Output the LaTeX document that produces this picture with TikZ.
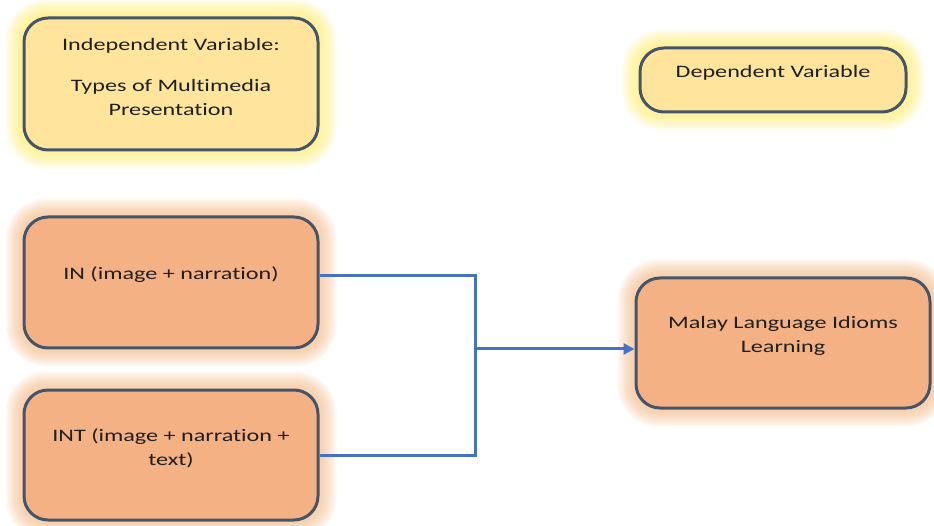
\documentclass[tikz,border=0pt]{standalone}
\usepackage{fontspec}
\setmainfont{Carlito}[FakeStretch=1.38, Ligatures=NoCommon]
\usetikzlibrary{arrows.meta}
\pgfdeclarelayer{bg}
\pgfsetlayers{bg,main}
\definecolor{yfill}{HTML}{FFE59C}
\definecolor{ofill}{HTML}{F4B183}
\definecolor{bord}{HTML}{44546A}
\definecolor{lblue}{HTML}{4472C4}
\definecolor{yglow}{HTML}{FFEF60}
\definecolor{oglow}{HTML}{F7B880}
\definecolor{txt}{HTML}{1F1F1F}
\tikzset{
  x=1pt, y=-1pt,
  boxst/.style={draw=bord, line width=3pt, rounded corners=24pt, inner sep=0pt},
  ybox/.style={boxst, fill=yfill},
  obox/.style={boxst, fill=ofill},
  lbl/.style={font=\fontsize{17.5}{24}\selectfont, text=txt, align=center, inner sep=0pt},
  conn/.style={draw=lblue, line width=3pt},
}
\newcommand{\glowit}[2]{%
  \begin{pgfonlayer}{bg}
  \foreach \w in {34,30,26,22,18,14,10,6} {
    \draw[line width=\w pt, draw=#2, opacity=0.1, rounded corners=24pt]
      (#1.north west) rectangle (#1.south east);
  }
  \end{pgfonlayer}}
\begin{document}
\begin{tikzpicture}
\begin{pgfonlayer}{bg}
\fill[white] (0,0) rectangle (934,526);
\end{pgfonlayer}
\useasboundingbox (0,0) rectangle (934,526);
\node[ybox, minimum width=294pt, minimum height=132pt] (iv) at (171,84) {};
\node[ybox, minimum width=266pt, minimum height=64pt] (dv) at (773,80) {};
\node[obox, minimum width=294pt, minimum height=131pt] (in) at (171,282.5) {};
\node[obox, minimum width=294pt, minimum height=130pt] (int) at (171,455) {};
\node[obox, minimum width=294pt, minimum height=130pt] (mal) at (783,343) {};
\glowit{iv}{yglow}
\glowit{dv}{yglow}
\glowit{in}{oglow}
\glowit{int}{oglow}
\glowit{mal}{oglow}
\node[lbl] (ivt1) at (171,46) {Independent Variable:};
\node[lbl] (ivt2) at (171,97) {Types of Multimedia\\Presentation};
\node[lbl] (dvt) at (773,73) {Dependent Variable};
\node[lbl] (int1) at (171,275) {IN (image + narration)};
\node[lbl] (intt) at (171,448.5) {INT (image + narration +\\text)};
\node[lbl] (malt) at (783,335.5) {Malay Language Idioms\\Learning};
\coordinate (j1) at (475,276);
\coordinate (j2) at (475,455);
\coordinate (jm) at (475,349);
\draw[conn] (in.east |- j1) -- (j1) -- (j2) -- (int.east |- j2);
\draw[conn, -{Triangle[length=11pt,width=11pt]}] (jm) -- (mal.west |- jm);
\end{tikzpicture}
\end{document}
